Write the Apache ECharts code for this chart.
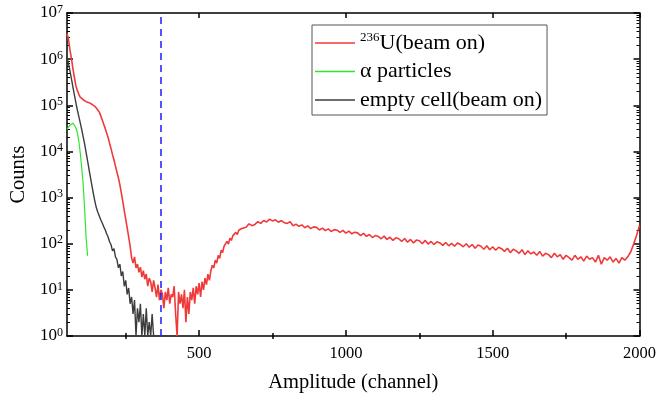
<!DOCTYPE html>
<html>
<head>
<meta charset="utf-8">
<script src="https://cdn.jsdelivr.net/npm/echarts@6/dist/echarts.min.js"></script>
<style>html,body{margin:0;padding:0;background:#fff}#c{width:659px;height:398px}</style>
</head>
<body>
<div id="c"></div>
<script>
// ---- data ----
const seriesNames = ['236U(beam on)', 'α particles', 'empty cell(beam on)'];
const cutoffChannel = 370;
const xTickValues = [500, 1000, 1500, 2000];
const xMinorTickValues = [250, 750, 1250, 1750];
const yMinorMultipliers = [2, 3, 4, 5, 6, 7, 8, 9];
const yDecades = [0, 1, 2, 3, 4, 5, 6];

const uChannels = [50,55,60,65,70,75,80,85,90,95,100,105,110,115,120,125,130,135,140,145,150,155,160,165,170,175,180,185,190,195,200,205,210,215,220,225,230,235,240,245,250,255,260,265,270,275,280,285,290,295,300,305,310,315,320,325,330,335,340,345,350,355,360,365,370,375,380,385,390,395,400,405,410,415,420,425,430,435,440,445,450,455,460,465,470,475,480,485,490,495,500,505,510,515,520,525,530,535,540,545,550,555,560,565,570,575,580,585,590,595,600,605,610,615,620,625,630,635,640,645,650,
660,670,680,690,700,710,720,730,740,750,760,770,780,790,800,810,820,830,840,850,860,870,880,890,900,910,920,930,940,950,960,970,980,990,1000,1010,1020,1030,1040,1050,1060,1070,1080,1090,1100,1110,1120,1130,1140,1150,1160,1170,1180,1190,1200,1210,1220,1230,1240,1250,1260,1270,1280,1290,1300,1310,1320,1330,1340,1350,1360,1370,1380,1390,1400,1410,1420,1430,1440,1450,1460,1470,1480,1490,1500,1510,1520,1530,1540,1550,1560,1570,1580,1590,1600,1610,1620,1630,1640,1650,1660,1670,1680,1690,1700,1710,1720,1730,1740,1750,1760,1770,1780,1790,1800,1810,1820,1830,1840,1850,1860,1870,1880,1890,1900,1910,1920,1930,1940,1950,1960,1970,1980,1990,2000];
const uCounts = [3550000,2700000,1580000,1050000,630000,410000,270000,210000,175000,150000,138000,132000,126000,120000,117000,114000,110000,105000,100000,95000,87000,79000,71000,59000,48000,39000,31600,25000,20000,15100,11500,8500,6500,4800,3550,2700,1900,1260,830,520,340,220,140,89,50,38,52,30,36,24,31,19,26,17,22,12,18,15,9,16,11,7,13,6,10,8,4,9,6,11,5,8,7,12,3,1,9,5,8,4,10,2,7,3,9,6,11,5,12,8,14,7,15,10,18,13,22,16,26,34,30,44,38,56,48,72,64,88,80,112,98,132,118,150,140,176,158,196,180,214,200,
228,270,246,262,300,276,318,296,340,312,330,292,318,286,276,298,246,266,238,256,222,244,212,232,226,198,218,192,210,184,202,196,176,194,170,188,164,178,172,150,168,144,158,136,150,144,128,146,124,138,118,134,128,112,130,108,124,104,120,116,100,118,98,112,96,110,104,92,106,90,102,88,104,96,86,100,84,96,80,94,88,76,90,74,86,72,84,78,68,80,64,76,70,62,74,58,70,60,66,56,68,54,62,58,50,62,52,58,46,56,50,44,56,46,52,42,54,46,50,40,56,36,50,44,52,40,48,38,50,44,52,66,98,150,250];

const alphaChannels = [50,55,60,65,70,75,80,85,90,95,100,105,110,115,120];
const alphaCounts = [30000,33000,37000,40000,41000,38000,33000,26000,17000,9500,4500,2000,560,140,55];

const emptyChannels = [50,55,60,65,70,75,80,85,90,95,100,105,110,115,120,125,130,135,140,145,150,155,160,165,170,175,180,185,190,195,200,205,210,215,220,225,230,235,240,245,250,255,260,265,270,275,280,285,290,295,300,305,310,315,320,325,330,335,340,345];
const emptyCounts = [1100000,800000,560000,380000,250000,170000,115000,80000,58000,42000,30000,21000,14500,9500,6300,4100,2700,1800,1200,830,600,480,400,330,280,235,200,165,140,110,95,70,78,52,46,30,36,20,25,12,16,8,11,5,7,3,6,1,4,2,5,1,3,1,4,1,2,1,3,1];

// ---- chart ----
const pair = (xs, ys) => xs.map((x, i) => [x, ys[i]]);
// positions (in decades) of the log-axis minor ticks 2..9 x 10^n
const yMinorTickPositions = [];
yDecades.forEach(d => yMinorMultipliers.forEach(m => yMinorTickPositions.push(d + Math.log10(m))));

const FONT = 'Liberation Serif';
const chart = echarts.init(document.getElementById('c'), null, {renderer: 'canvas'});
const axisLine = {show: true, onZero: false, lineStyle: {color: '#000', width: 1.5}};
const xBase = {type: 'value', min: 50, max: 2000, gridIndex: 0, splitLine: {show: false}};
const yBase = {type: 'log', logBase: 10, min: 1, max: 10000000, interval: 1, splitLine: {show: false}};
const yMinorBase = {type: 'value', min: 0, max: 7, splitLine: {show: false}, axisLine: {show: false},
  axisLabel: {show: false},
  axisTick: {inside: true, length: 3, customValues: yMinorTickPositions, lineStyle: {color: '#000', width: 1}}};

chart.setOption({
  animation: false,
  backgroundColor: '#fff',
  textStyle: {fontFamily: FONT},
  grid: {left: 65, right: 15, top: 13, bottom: 62, containLabel: false},
  legend: {
    orient: 'vertical', left: 312, top: 25,
    data: seriesNames,
    icon: 'rect', itemWidth: 40, itemHeight: 1.5, itemGap: 4.5,
    padding: [6, 5, 3, 3],
    borderColor: '#555', borderWidth: 1,
    formatter: n => n.replace(/^236/, '{sup|236}'),
    textStyle: {fontFamily: FONT, fontSize: 22, color: '#000', lineHeight: 24,
      rich: {sup: {fontFamily: FONT, fontSize: 13, verticalAlign: 'top', lineHeight: 24, color: '#000'}}}
  },
  xAxis: [
    Object.assign({}, xBase, {position: 'bottom', axisLine,
      name: 'Amplitude (channel)', nameLocation: 'middle', nameGap: 36,
      nameTextStyle: {fontFamily: FONT, fontSize: 20.5, color: '#000'},
      axisTick: {inside: true, length: 6, customValues: xTickValues, lineStyle: {color: '#000', width: 1.5}},
      axisLabel: {customValues: xTickValues, margin: 9, fontFamily: FONT, fontSize: 16.5, color: '#000',
        formatter: v => String(v)}}),
    Object.assign({}, xBase, {position: 'bottom', axisLine: {show: false},
      axisTick: {inside: true, length: 3, customValues: xMinorTickValues, lineStyle: {color: '#000', width: 1.5}},
      axisLabel: {show: false}}),
    Object.assign({}, xBase, {position: 'top', axisLine,
      axisTick: {inside: true, length: 5, customValues: xTickValues, lineStyle: {color: '#000', width: 1.5}},
      axisLabel: {show: false}}),
    Object.assign({}, xBase, {position: 'top', axisLine: {show: false},
      axisTick: {inside: true, length: 3, customValues: xMinorTickValues, lineStyle: {color: '#000', width: 1.5}},
      axisLabel: {show: false}})
  ],
  yAxis: [
    Object.assign({}, yBase, {position: 'left', axisLine,
      name: 'Counts', nameLocation: 'middle', nameGap: 38,
      nameTextStyle: {fontFamily: FONT, fontSize: 20.5, color: '#000'},
      axisTick: {inside: true, length: 6, lineStyle: {color: '#000', width: 1.5}},
      axisLabel: {margin: 4, fontFamily: FONT, fontSize: 17, color: '#000',
        formatter: v => '{b|10}{e|' + Math.round(Math.log10(v)) + '}',
        rich: {b: {fontFamily: FONT, fontSize: 17, color: '#000', lineHeight: 19},
               e: {fontFamily: FONT, fontSize: 12, color: '#000', verticalAlign: 'top', lineHeight: 19}}}}),
    Object.assign({}, yBase, {position: 'right', axisLine,
      axisTick: {inside: true, length: 6, lineStyle: {color: '#000', width: 1.5}},
      axisLabel: {show: false}}),
    Object.assign({}, yMinorBase, {position: 'left'}),
    Object.assign({}, yMinorBase, {position: 'right'})
  ],
  series: [
    {name: seriesNames[0], type: 'line', data: pair(uChannels, uCounts), showSymbol: false, symbol: 'none',
      lineStyle: {color: '#f03a3a', width: 1.6}, itemStyle: {color: '#f03a3a'}, z: 3,
      markLine: {silent: true, symbol: 'none', label: {show: false},
        lineStyle: {color: '#1a1aff', type: [7, 5], width: 1.5},
        data: [{xAxis: cutoffChannel}]}},
    {name: seriesNames[1], type: 'line', data: pair(alphaChannels, alphaCounts), showSymbol: false, symbol: 'none',
      lineStyle: {color: '#2ee62e', width: 1.2}, itemStyle: {color: '#2ee62e'}, z: 4},
    {name: seriesNames[2], type: 'line', data: pair(emptyChannels, emptyCounts), showSymbol: false, symbol: 'none',
      lineStyle: {color: '#3c3c3c', width: 1.4}, itemStyle: {color: '#3c3c3c'}, z: 2}
  ]
});
</script>
</body>
</html>
